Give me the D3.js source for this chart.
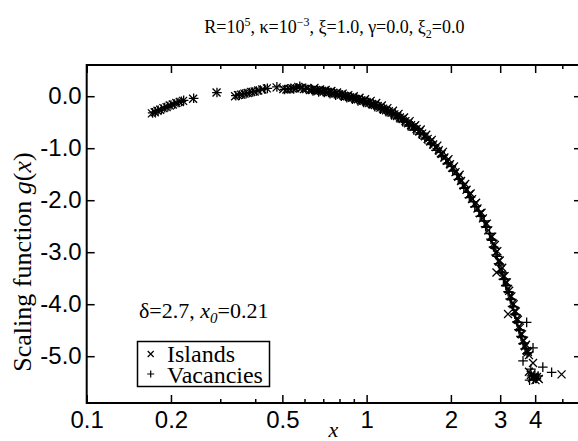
<!DOCTYPE html>
<html><head><meta charset="utf-8">
<script src="https://cdn.jsdelivr.net/npm/d3@7"></script>
<style>body{margin:0;background:#fff} svg{display:block}</style>
</head><body>
<svg id="c" width="578" height="441"></svg>
<script>
const islandsX = [0.171,0.175,0.179,0.183,0.188,0.193,0.198,0.203,0.209,0.215,0.221,0.240,0.291,
0.339,0.347,0.356,0.366,0.376,0.387,0.398,0.410,0.424,0.440,0.477,
0.504,0.517,0.530,0.543,0.556,0.570,0.584,0.598,0.613,0.628,0.643,0.658,0.674,0.690,0.706,0.723,0.740,0.757,0.775,0.793,0.812,0.831,0.850,0.870,0.890,0.911,0.932,0.954,0.976,0.999,
1.022,1.046,1.070,1.095,1.120,1.146,1.173,1.200,1.228,1.256,1.285,1.315,1.345,1.376,1.408,1.441,1.474,1.508,1.543,1.579,1.615,1.652,1.690,1.729,1.769,1.810,1.852,1.895,1.939,1.984,
2.030,2.077,2.125,2.174,2.224,2.275,2.327,2.380,2.434,2.489,2.545,2.602,2.660,2.719,2.779,2.840,2.900,2.910,2.960,
3.020,3.080,3.140,3.200,3.200,3.260,3.320,3.380,3.440,3.500,3.560,3.620,3.680,3.740,3.800,3.930,3.860,3.900,3.960,4.010,4.060,4.970,
0.651,0.682,0.714,0.748,0.784,0.821,0.860,0.900,0.943,0.987,1.034,1.082,1.133,1.186,1.242,1.300,1.360,1.424,1.491,1.561,1.633,1.709,1.789,1.873,1.961,
2.053,2.149,2.249,2.353,2.461,2.573,2.689,2.809,2.930,3.050,3.170,3.290,3.410,3.530,3.650,3.770,
2.870,2.990,3.110,3.230,3.350,3.470,3.590,3.710,3.800,4.120];
const islandsG = [-0.33,-0.31,-0.28,-0.26,-0.23,-0.21,-0.18,-0.16,-0.13,-0.11,-0.09,-0.05,0.07,
0.00,0.02,0.03,0.05,0.06,0.08,0.09,0.11,0.13,0.15,0.17,
0.14,0.13,0.14,0.15,0.15,0.18,0.16,0.14,0.15,0.12,0.13,0.12,0.11,0.10,0.10,0.08,0.08,0.06,0.05,0.04,0.03,0.01,0.00,-0.02,-0.03,-0.05,-0.06,-0.08,-0.09,-0.11,
-0.13,-0.15,-0.17,-0.19,-0.22,-0.24,-0.27,-0.29,-0.32,-0.35,-0.38,-0.41,-0.44,-0.48,-0.52,-0.56,-0.59,-0.63,-0.68,-0.72,-0.77,-0.82,-0.87,-0.93,-0.98,-1.04,-1.11,-1.18,-1.24,-1.31,
-1.38,-1.46,-1.55,-1.63,-1.72,-1.80,-1.89,-1.98,-2.07,-2.16,-2.25,-2.35,-2.46,-2.58,-2.70,-2.84,-3.00,-3.39,-3.17,
-3.33,-3.46,-3.58,-3.71,-4.19,-3.84,-3.98,-4.13,-4.28,-4.43,-4.57,-4.70,-4.81,-4.90,-4.98,-5.13,-5.36,-5.42,-5.39,-5.46,-5.40,-5.35,
0.16,0.13,0.12,0.10,0.07,0.05,0.02,0.00,-0.03,-0.06,-0.09,-0.13,-0.18,-0.23,-0.28,-0.34,-0.41,-0.48,-0.56,-0.64,-0.74,-0.84,-0.95,-1.07,-1.21,
-1.35,-1.51,-1.69,-1.87,-2.05,-2.24,-2.45,-2.70,-2.98,-3.30,-3.58,-3.85,-4.14,-4.45,-4.70,-4.92,
-2.86,-3.16,-3.46,-3.74,-4.00,-4.30,-4.58,-4.78,-5.30,-5.44];
const vacanciesX = [0.172,0.176,0.180,0.185,0.190,0.195,0.200,0.206,0.212,0.218,0.222,0.241,0.292,
0.341,0.351,0.361,0.371,0.381,0.392,0.404,0.417,0.432,0.442,0.478,
0.509,0.523,0.536,0.549,0.563,0.577,0.591,0.606,0.620,0.636,0.650,0.666,0.682,0.698,0.714,0.731,0.748,0.766,0.784,0.802,0.821,0.840,0.860,0.880,0.900,0.921,0.943,0.965,0.987,
1.010,1.034,1.058,1.082,1.107,1.133,1.159,1.186,1.214,1.242,1.270,1.300,1.330,1.360,1.392,1.424,1.457,1.491,1.525,1.561,1.597,1.633,1.671,1.709,1.749,1.789,1.831,1.873,1.917,1.961,
2.007,2.053,2.101,2.149,2.199,2.249,2.301,2.353,2.407,2.461,2.517,2.573,2.631,2.689,2.749,2.809,2.870,2.930,2.990,
3.050,3.110,3.170,3.230,3.290,3.350,3.410,3.470,3.530,3.590,3.650,3.730,3.710,3.770,3.930,3.620,3.880,3.940,3.990,4.040,4.260,4.580,
0.643,0.674,0.706,0.740,0.775,0.812,0.850,0.890,0.932,0.976,1.022,1.070,1.120,1.173,1.228,1.285,1.345,1.408,1.474,1.543,1.615,1.690,1.769,1.852,1.939,
2.030,2.125,2.224,2.327,2.434,2.545,2.660,2.779,2.900,3.020,3.140,3.260,3.380,3.500,3.620,3.740,
2.840,2.960,3.080,3.200,3.320,3.440,3.560,3.680,3.820,4.100,3.860];
const vacanciesG = [-0.32,-0.30,-0.27,-0.25,-0.22,-0.20,-0.17,-0.15,-0.12,-0.10,-0.08,-0.04,0.07,
0.01,0.02,0.04,0.05,0.07,0.08,0.10,0.12,0.14,0.15,0.18,
0.13,0.14,0.15,0.14,0.16,0.19,0.15,0.15,0.13,0.13,0.11,0.12,0.10,0.09,0.09,0.07,0.07,0.05,0.05,0.03,0.02,0.00,-0.01,-0.02,-0.04,-0.05,-0.07,-0.08,-0.10,
-0.12,-0.14,-0.16,-0.18,-0.20,-0.23,-0.25,-0.28,-0.31,-0.33,-0.36,-0.40,-0.43,-0.46,-0.50,-0.54,-0.57,-0.61,-0.65,-0.70,-0.74,-0.79,-0.85,-0.90,-0.95,-1.01,-1.08,-1.14,-1.21,-1.28,
-1.35,-1.42,-1.51,-1.59,-1.68,-1.76,-1.85,-1.94,-2.03,-2.12,-2.21,-2.30,-2.40,-2.52,-2.64,-2.77,-2.92,-3.08,-3.25,
-3.40,-3.52,-3.64,-3.77,-3.91,-4.05,-4.20,-4.35,-4.50,-4.63,-4.75,-4.35,-4.85,-4.93,-4.84,-5.09,-5.38,-5.44,-5.35,-5.43,-5.21,-5.31,
0.10,0.08,0.07,0.05,0.02,0.00,-0.03,-0.06,-0.09,-0.12,-0.15,-0.20,-0.25,-0.30,-0.36,-0.42,-0.49,-0.57,-0.65,-0.73,-0.82,-0.92,-1.04,-1.16,-1.30,
-1.44,-1.60,-1.77,-1.95,-2.13,-2.31,-2.51,-2.75,-3.05,-3.38,-3.64,-3.90,-4.19,-4.49,-4.76,-4.95,
-2.90,-3.22,-3.52,-3.76,-4.04,-4.34,-4.62,-4.86,-5.46,-5.38,-5.25];
const xMajorTicks = [0.1,0.2,0.5,1,2,3,4];
const xTickLabels = ["0.1","0.2","0.5","1","2","3","4"];
const xMinorTicks = [0.3,0.4,0.6,0.7,0.8,0.9,5];
const yTicks = [0,-1,-2,-3,-4,-5];
const yTickLabels = ["0.0","-1.0","-2.0","-3.0","-4.0","-5.0"];
const legendLabels = ["Islands","Vacancies"];

const svg = d3.select("#c");
const L = 86.7, R = 582, T = 65, B = 403;
const x = d3.scaleLog().domain([0.1, 5.88]).range([L, R]);
const y = d3.scaleLinear().domain([-5.9, 0.6]).range([B, T]);
const serif = "'Liberation Serif','Times New Roman',serif";
const sans = "'Liberation Sans',Arial,Helvetica,sans-serif";

function styleAxis(g){ g.select(".domain").remove(); g.selectAll(".tick line").attr("stroke","#000").attr("stroke-width",1.5); }

// bottom
svg.append("g").attr("transform",`translate(0,${B})`)
  .call(d3.axisBottom(x).tickValues(xMajorTicks).tickFormat((d,i)=>xTickLabels[i]).tickSize(-8).tickPadding(8))
  .call(styleAxis).call(g=>g.selectAll("text").attr("font-family",sans).attr("font-size",24).attr("fill","#000"));
svg.append("g").attr("transform",`translate(0,${B})`)
  .call(d3.axisBottom(x).tickValues(xMinorTicks).tickFormat("").tickSize(-4)).call(styleAxis);
// top
svg.append("g").attr("transform",`translate(0,${T})`)
  .call(d3.axisTop(x).tickValues(xMajorTicks).tickFormat("").tickSize(-8)).call(styleAxis);
svg.append("g").attr("transform",`translate(0,${T})`)
  .call(d3.axisTop(x).tickValues(xMinorTicks).tickFormat("").tickSize(-4)).call(styleAxis);
// left
svg.append("g").attr("transform",`translate(${L},0)`)
  .call(d3.axisLeft(y).tickValues(yTicks).tickFormat((d,i)=>yTickLabels[i]).tickSize(-8).tickPadding(5))
  .call(styleAxis).call(g=>g.selectAll("text").attr("font-family",sans).attr("font-size",24).attr("fill","#000"));
// right
svg.append("g").attr("transform",`translate(${R},0)`)
  .call(d3.axisRight(y).tickValues(yTicks).tickFormat("").tickSize(-8)).call(styleAxis);

// frame
svg.append("rect").attr("x",L).attr("y",T).attr("width",R-L).attr("height",B-T)
  .attr("fill","none").attr("stroke","#000").attr("stroke-width",2);

const crossPath = "M-4,-4L4,4M-4,4L4,-4";
const plusPath = "M-4.8,0H4.8M0,-4.8V4.8";
const isl = islandsX.map((v,i)=>[v,islandsG[i]]);
const vac = vacanciesX.map((v,i)=>[v,vacanciesG[i]]);
svg.append("g").selectAll("path").data(isl).join("path")
  .attr("d",crossPath).attr("transform",d=>`translate(${x(d[0])},${y(d[1])})`)
  .attr("stroke","#000").attr("stroke-width",1.3).attr("fill","none");
svg.append("g").selectAll("path").data(vac).join("path")
  .attr("d",plusPath).attr("transform",d=>`translate(${x(d[0])},${y(d[1])})`)
  .attr("stroke","#000").attr("stroke-width",1.3).attr("fill","none");

// title
const title = svg.append("text").attr("x",(L+R)/2).attr("y",33).attr("text-anchor","middle")
  .attr("font-family",serif).attr("font-size",18).attr("fill","#000");
title.append("tspan").text("R=10");
title.append("tspan").attr("dy",-7).attr("font-size",12).text("5");
title.append("tspan").attr("dy",7).text(", κ=10");
title.append("tspan").attr("dy",-7).attr("font-size",12).text("−3");
title.append("tspan").attr("dy",7).text(", ξ=1.0, γ=0.0, ξ");
title.append("tspan").attr("dy",5).attr("font-size",12).text("2");
title.append("tspan").attr("dy",-5).text("=0.0");

// annotation
const ann = svg.append("text").attr("x",139).attr("y",318).attr("font-family",serif).attr("font-size",22).attr("fill","#000");
ann.append("tspan").text("δ=2.7, ");
ann.append("tspan").attr("font-style","italic").text("x");
ann.append("tspan").attr("font-style","italic").attr("font-size",15).attr("dy",5).text("0");
ann.append("tspan").attr("dy",-5).text("=0.21");

// legend
svg.append("rect").attr("x",137.5).attr("y",341.5).attr("width",132).attr("height",45)
  .attr("fill","#fff").attr("stroke","#000").attr("stroke-width",1.5);
const lg = svg.append("g");
lg.append("path").attr("d","M-3,-3L3,3M-3,3L3,-3").attr("transform","translate(150.7,354)").attr("stroke","#000").attr("stroke-width",1.2);
lg.append("path").attr("d","M-3.5,0H3.5M0,-3.5V3.5").attr("transform","translate(150.7,374)").attr("stroke","#000").attr("stroke-width",1.2);
lg.selectAll("text").data(legendLabels).join("text").attr("x",167).attr("y",(d,i)=>362+i*20.5)
  .attr("font-family",serif).attr("font-size",24).attr("fill","#000").text(d=>d);

// axis labels
svg.append("text").attr("x",(L+R)/2 - 1).attr("y",437).attr("text-anchor","middle")
  .attr("font-family",serif).attr("font-style","italic").attr("font-size",22).text("x");
const yl = svg.append("text").attr("transform","translate(31,262) rotate(-90)").attr("text-anchor","middle")
  .attr("font-family",serif).attr("font-size",26).attr("fill","#000");
yl.append("tspan").text("Scaling function ");
yl.append("tspan").attr("font-style","italic").text("g");
yl.append("tspan").text("(");
yl.append("tspan").attr("font-style","italic").text("x");
yl.append("tspan").text(")");
</script>
</body></html>
